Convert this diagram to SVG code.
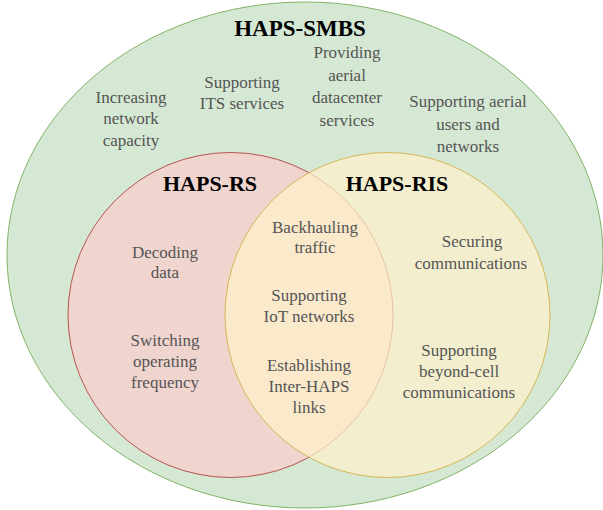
<svg xmlns="http://www.w3.org/2000/svg" width="603" height="510" viewBox="0 0 603 510">
<style>
.t{font-family:"Liberation Serif","Times New Roman",serif;font-size:17px;fill:#555555;text-anchor:middle}
.h{font-family:"Liberation Serif","Times New Roman",serif;font-size:22px;font-weight:bold;fill:#000000;text-anchor:middle}
</style>
<rect width="603" height="510" fill="#ffffff"/>
<g id="haps-smbs">
<ellipse cx="305" cy="255" rx="298" ry="253" fill="#d5e8d4" stroke="#82b366" stroke-width="1"/>
<text class="h" x="300" y="36" style="font-size:23px">HAPS-SMBS</text>
<text class="t" x="131" y="103">Increasing</text>
<text class="t" x="131" y="124">network</text>
<text class="t" x="131" y="146">capacity</text>
<text class="t" x="242" y="88">Supporting</text>
<text class="t" x="242" y="109">ITS services</text>
<text class="t" x="347" y="58">Providing</text>
<text class="t" x="347" y="81">aerial</text>
<text class="t" x="347" y="103">datacenter</text>
<text class="t" x="347" y="126">services</text>
<text class="t" x="468" y="107">Supporting aerial</text>
<text class="t" x="468" y="130">users and</text>
<text class="t" x="468" y="152">networks</text>
</g>
<g id="haps-rs">
<circle cx="230.5" cy="315" r="162.5" fill="#f8cecc" fill-opacity="0.75" stroke="#b85450" stroke-width="1"/>
</g>
<g id="haps-ris">
<circle cx="387.5" cy="315" r="162.5" fill="#fff2cc" fill-opacity="0.7" stroke="#d6b656" stroke-width="1"/>
</g>
<g id="labels">
<text class="h" x="210" y="191">HAPS-RS</text>
<text class="h" x="397" y="191">HAPS-RIS</text>
<text class="t" x="165" y="258">Decoding</text>
<text class="t" x="165" y="278">data</text>
<text class="t" x="165" y="346">Switching</text>
<text class="t" x="165" y="367">operating</text>
<text class="t" x="165" y="388">frequency</text>
<text class="t" x="315" y="233">Backhauling</text>
<text class="t" x="315" y="253">traffic</text>
<text class="t" x="309" y="301">Supporting</text>
<text class="t" x="309" y="322">IoT networks</text>
<text class="t" x="309" y="371">Establishing</text>
<text class="t" x="309" y="392">Inter-HAPS</text>
<text class="t" x="309" y="413">links</text>
<text class="t" x="472" y="247">Securing</text>
<text class="t" x="471" y="269">communications</text>
<text class="t" x="459" y="356">Supporting</text>
<text class="t" x="459" y="377">beyond-cell</text>
<text class="t" x="459" y="398">communications</text>
</g>
<g id="connectors"/>
</svg>
